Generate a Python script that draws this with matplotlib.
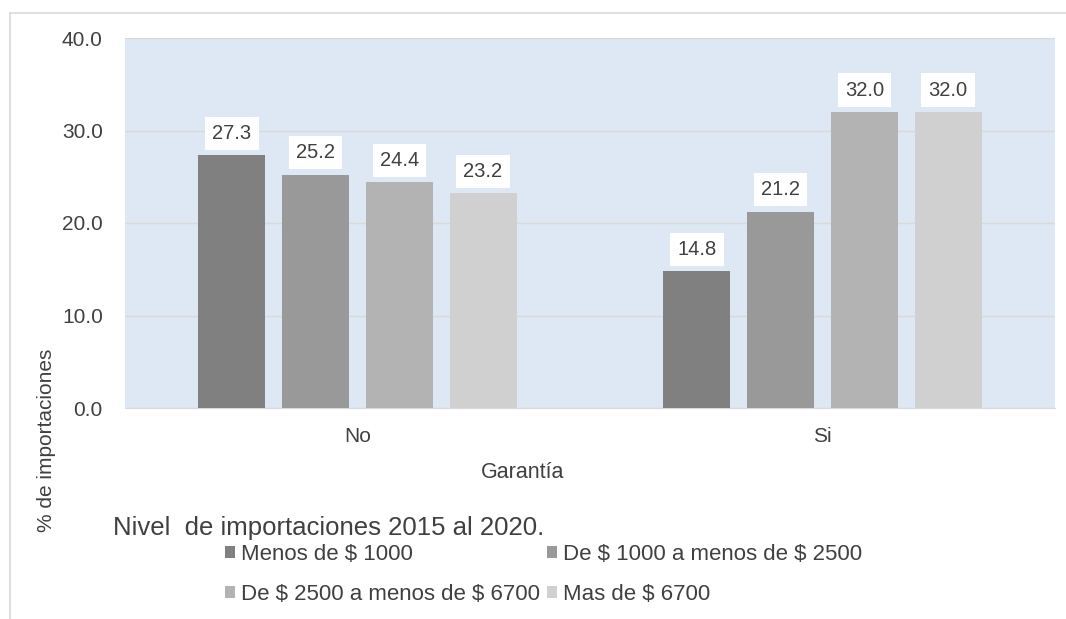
import matplotlib.pyplot as plt
import numpy as np

plt.rcParams['font.family'] = ['Liberation Sans', 'DejaVu Sans']

categorias = ['No', 'Si']
series = ['Menos de \\$ 1000', 'De \\$ 1000 a menos de \\$ 2500',
          'De \\$ 2500 a menos de \\$ 6700', 'Mas de \\$ 6700']
valores = [
    [27.3, 14.8],
    [25.2, 21.2],
    [24.4, 32.0],
    [23.2, 32.0],
]
colores = ['#808080', '#999999', '#b3b3b3', '#d0d0d0']

W, H = 1066, 619
fig = plt.figure(figsize=(W / 100, H / 100), dpi=100)
ax = fig.add_axes([125 / W, (H - 408) / H, 930 / W, 370 / H])
ax.set_facecolor('#dde8f4')

x = np.arange(len(categorias))
ancho = 0.144
paso = 0.18
barras = []
for i, (serie, vals) in enumerate(zip(series, valores)):
    pos = x + (i - 1.5) * paso
    b = ax.bar(pos, vals, width=ancho, color=colores[i], label=serie, zorder=3)
    barras.append(b)
    for px, v in zip(pos, vals):
        ax.annotate('{:.1f}'.format(v), (px, v), xytext=(0, 9), textcoords='offset points',
                    ha='center', va='bottom', fontsize=14.5, color='#404040', zorder=4,
                    bbox=dict(boxstyle='square,pad=0.35', fc='white', ec='none'))

ax.set_xlim(-0.5, 1.5)
ax.set_ylim(0, 40)
ax.set_yticks([0, 10, 20, 30, 40])
ax.set_yticklabels(['{:.1f}'.format(t) for t in [0, 10, 20, 30, 40]])
ax.set_xticks(x)
ax.set_xticklabels(categorias)
ax.tick_params(axis='both', length=0, labelsize=15, labelcolor='#404040')
ax.tick_params(axis='y', pad=16)
ax.tick_params(axis='x', pad=14)
ax.yaxis.grid(True, color='#d9d9d9', linewidth=1, zorder=0)
for s in ['top', 'right', 'left']:
    ax.spines[s].set_visible(False)
ax.spines['bottom'].set_color('#d9d9d9')

fig.text(523 / W, 1 - 472 / H, 'Garantía', ha='center', va='center', fontsize=15.5, color='#404040')
fig.text(47 / W, 1 - 440 / H, '% de importaciones', rotation=90, ha='center', va='center',
         fontsize=15, color='#404040')

# orden por filas: matplotlib llena por columnas
orden = [0, 2, 1, 3]
leg = fig.legend(handles=[barras[k] for k in orden], labels=[series[k] for k in orden], ncol=2,
                 loc='upper left', bbox_to_anchor=(225 / W, 1 - 544 / H), frameon=False,
                 fontsize=16, handlelength=0.45, handleheight=0.45, handletextpad=0.25,
                 columnspacing=0.35, labelspacing=0.85, borderpad=0, borderaxespad=0)
for text in leg.get_texts():
    plt.setp(text, color='#404040')
fig.text(113 / W, 1 - 528 / H, 'Nivel  de importaciones 2015 al 2020.', ha='left', va='center',
         fontsize=18.5, color='#404040')

# marco exterior
fig.add_artist(plt.Line2D([10 / W, 10 / W], [0, 1 - 13 / H], color='#d9d9d9', lw=1.2))
fig.add_artist(plt.Line2D([10 / W, 1], [1 - 13 / H, 1 - 13 / H], color='#d9d9d9', lw=1.2))

fig.savefig('out.png', dpi=100)
